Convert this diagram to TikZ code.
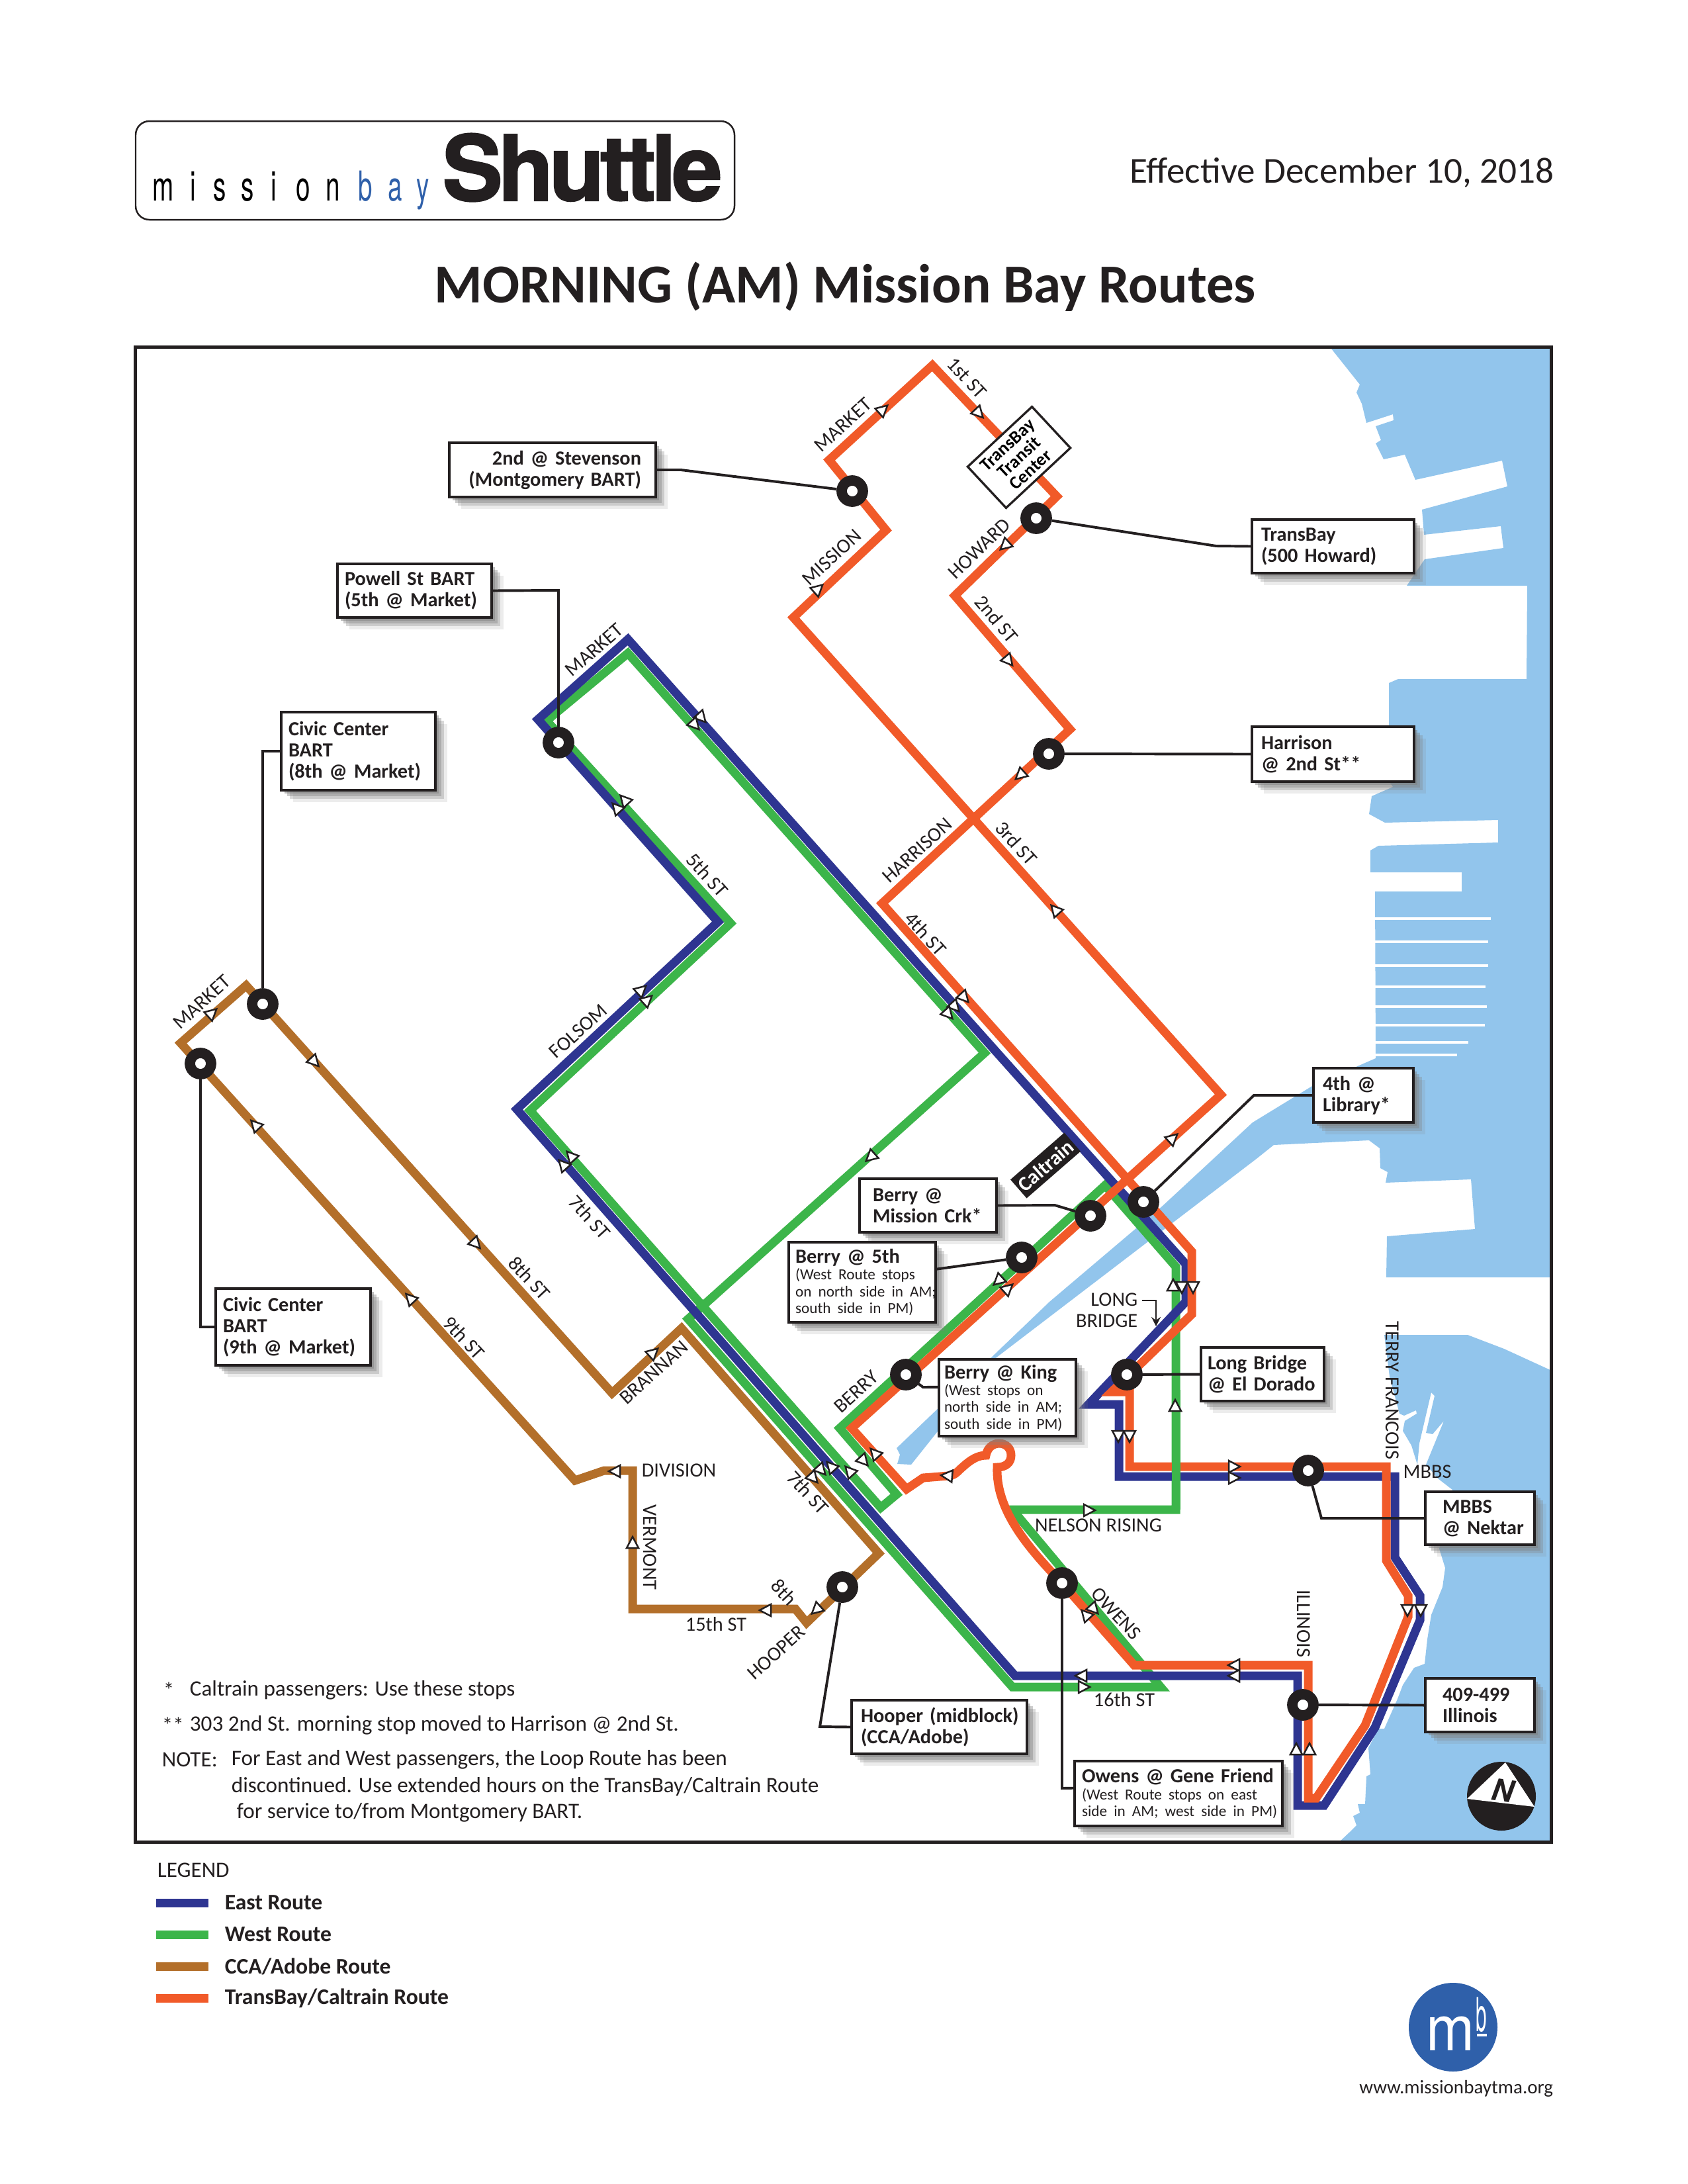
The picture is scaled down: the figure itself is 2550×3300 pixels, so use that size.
\documentclass[tikz,border=0pt]{standalone}
\usepackage{fontspec}
\setmainfont{Carlito}
\newfontfamily\heavyfont[BoldFeatures={FakeBold=1.5,LetterSpace=-5}]{TeX Gyre Heros}
\newfontfamily\logofont{TeX Gyre Heros}
\usetikzlibrary{shadows}
\definecolor{eastblue}{RGB}{46,53,145}
\definecolor{westgreen}{RGB}{60,181,74}
\definecolor{ccabrown}{RGB}{179,111,42}
\definecolor{bayorange}{RGB}{241,90,41}
\definecolor{water}{RGB}{146,197,236}
\definecolor{mbblue}{RGB}{47,96,170}
\definecolor{inkblack}{RGB}{35,31,32}
\newcommand{\boxnote}{\fontsize{5.6}{6.1}\selectfont\mdseries}
\tikzset{
  routeline/.style={line width=3.13pt, line join=miter, miter limit=10},
  leader/.style={draw=inkblack, line width=0.95pt},
  tick/.style={draw=inkblack, fill=white, line width=0.6pt, line join=miter},
  pier/.style={draw=white, line width=1.1pt},
  rlabel/.style={font=\fontsize{7.3}{7.6}\selectfont, text=inkblack, inner sep=0pt},
  stopdot/.style={circle, draw=inkblack, fill=white, line width=3.8pt, minimum size=7.7pt, inner sep=0pt},
  plainbox/.style={draw=inkblack, fill=white, line width=0.8pt,
    drop shadow={shadow xshift=1.2pt, shadow yshift=-1.2pt, opacity=0.5},
    drop shadow={shadow xshift=2.2pt, shadow yshift=-2.2pt, opacity=0.4},
    drop shadow={shadow xshift=3.2pt, shadow yshift=-3.2pt, opacity=0.3},
    drop shadow={shadow xshift=4.4pt, shadow yshift=-4.4pt, opacity=0.15},
    font=\fontsize{7.3}{7.7}\selectfont\bfseries, text=inkblack, align=left, inner ysep=0pt},
  stopbox/.code n args={3}{%
    \pgfmathsetlengthmacro\boxw{(#1-2*#3)*0.24088pt}%
    \pgfmathsetlengthmacro\boxh{#2*0.24088pt}%
    \pgfmathsetlengthmacro\boxp{#3*0.24088pt}%
    \tikzset{plainbox, text width=\boxw, minimum height=\boxh, inner xsep=\boxp}},
  legendtext/.style={font=\fontsize{8.1}{8.1}\selectfont\bfseries, text=inkblack, anchor=west, inner sep=0pt},
  notetext/.style={font=\fontsize{8}{8}\selectfont, text=inkblack, anchor=west, inner sep=0pt},
  logoletter/.style={font=\logofont\fontsize{15}{15}\selectfont, anchor=base, inner sep=0pt, xscale=0.62},
}
\begin{document}
\begin{tikzpicture}[x=0.24088pt, y=-0.24088pt]
  \useasboundingbox (0,0) rectangle (2550,3300);
  % bay
  \fill[water] (2012,527) -- (2055,581) -- (2050,593) -- (2058,610) -- (2065,639) -- (2105,626) -- (2106,635) -- (2079,644) -- (2087,665) -- (2079,670) -- (2091,694) -- (2123,687) -- (2139,725) -- (2270,696) -- (2278,735) -- (2149,770) -- (2152,808) -- (2268,795) -- (2272,828) -- (2153,845) -- (2126,885) -- (2308,885) -- (2307,1026) -- (2113,1026) -- (2099,1032) -- (2099,1180) -- (2105,1189) -- (2073,1203) -- (2069,1230) -- (2093,1243) -- (2264,1239) -- (2264,1273) -- (2083,1278) -- (2071,1285) -- (2071,1318) -- (2209,1318) -- (2209,1347) -- (2078,1347) -- (2079,1599) -- (1983,1641) -- (1893,1696) -- (1757,1822) -- (1586,1967) -- (1355,2188) -- (1360,2198) -- (1356,2212) -- (1377,2213) -- (1506,2051) -- (1900,1750) -- (1925,1730) -- (2069,1723) -- (2085,1735) -- (2086,1765) -- (2097,1771) -- (2094,1787) -- (2223,1782) -- (2229,1857) -- (2096,1868) -- (2095,1930) -- (2345,1930) -- (2345,527) -- cycle;
  \fill[water] (2092,2017) -- (2218,2017) -- (2273,2038) -- (2345,2071) -- (2345,2783) -- (2024,2783) -- (2040,2768) -- (2050,2758) -- (2045,2744) -- (2055,2739) -- (2052,2726) -- (2063,2726) -- (2065,2684) -- (2071,2681) -- (2068,2641) -- (2083,2612) -- (2092,2612) -- (2112,2567) -- (2120,2546) -- (2137,2520) -- (2153,2514) -- (2157,2477) -- (2163,2440) -- (2180,2398) -- (2184,2369) -- (2175,2340) -- (2195,2251) -- (2173,2234) -- (2155,2213) -- (2182,2147) -- (2165,2167) -- (2155,2165) -- (2168,2109) -- (2163,2104) -- (2145,2181) -- (2142,2213) -- (2133,2184) -- (2120,2162) -- (2123,2147) -- (2141,2136) -- (2140,2131) -- (2122,2139) -- (2115,2136) -- (2100,2080) -- cycle;
  \foreach \py/\pe in {1388/2253, 1423/2249, 1459/2249, 1491/2245, 1521/2247, 1549/2244, 1575/2219, 1594/2202}
    \draw[pier] (2072,\py) -- (\pe,\py);

  % routes
  \draw[routeline, ccabrown] (372,1489) -- (273,1576) -- (869,2237) -- (913,2222) -- (956,2222) -- (956,2431) -- (1202,2431) -- (1219,2452) -- (1328,2347) -- (1030,2007) -- (925,2105) -- cycle;
  \draw[routeline, westgreen] (1530,2281) -- (1777,2281) -- (1777,1914) -- (1670,1791) -- (1269,2158) -- (1355,2258) -- (1331,2278) -- (801,1678) -- (1104,1395) -- (826,1089) -- (949,987) -- (1488,1591) -- (1040,1993) -- (1530,2549) -- (1754,2549) -- cycle;
  \draw[routeline, eastblue] (949,966) -- (813,1087) -- (1085,1393) -- (781,1676) -- (1534,2532) -- (1961,2532) -- (1961,2728) -- (2001,2728) -- (2078,2610) -- (2146,2448) -- (2146,2411) -- (2108,2353) -- (2108,2231) -- (1691,2231) -- (1691,2122) -- (1645,2122) -- (1792,1967) -- (1792,1910) -- cycle;
  \draw[routeline, bayorange] (1199,933) -- (1339,801) -- (1253,695) -- (1409,552) -- (1597,750) -- (1443,900) -- (1617,1102) -- (1333,1365) -- (1801,1891) -- (1801,1986) -- (1680,2103) -- (1707,2103) -- (1707,2216) -- (2095,2216) -- (2095,2358) -- (2128,2411) -- (2128,2443) -- (2063,2607) -- (1989,2717) -- (1977,2717) -- (1977,2516) -- (1714,2516) -- (1605,2392)
    .. controls (1550,2335) and (1505,2280) .. (1507,2217)
    .. controls (1520,2217) and (1528,2210) .. (1528,2199)
    .. controls (1528,2188) and (1520,2181) .. (1510,2181)
    .. controls (1500,2181) and (1492,2188) .. (1490,2199)
    .. controls (1473,2199) and (1460,2212) .. (1451,2220)
    .. controls (1444,2227) and (1440,2230) .. (1433,2230)
    -- (1395,2233) -- (1370,2250) -- (1287,2158) -- (1845,1654) -- cycle;
  \draw[routeline, westgreen] (1777,2281) -- (1777,2100);

  % direction marks
  \foreach \px/\py/\ang in {1333/620/42, 1478/623/-47, 1520/823/222, 1235/891/42, 1523/997/-50, 1543/1170/222, 1596/1376/132, 1456/1506/-48, 1771/1721/42, 1522/1948/42, 1803/1943/-90, 1707/2168/-90, 1863/2216/0, 2127/2431/-90, 1979/2645/90, 1867/2516/180, 1642/2441/132, 1433/2230/175, 1323/2197/132,
    1690/2168/-90, 1786/1943/-90, 1863/2233/0, 2147/2431/-90, 1959/2645/90, 1867/2532/180, 1636/2532/180, 1257/2217/132, 852/1761/132, 968/1497/42, 933/1222/132, 1059/1083/-48, 1442/1520/-48,
    1773/1944/90, 1636/2549/0, 1652/2430/-48, 1304/2206/-48, 1285/2224/132, 1240/2220/-48, 1510/1934/222, 1317/1747/222, 1644/2282/0, 1776/2126/90, 864/1748/132, 977/1512/42, 945/1210/132, 1049/1094/-48, 1432/1531/-48,
    319/1532/42, 474/1603/-47, 718/1878/-47, 387/1701/133, 621/1963/133, 986/2045/42, 931/2223/180, 956/2333/90, 1159/2433/180, 1235/2431/222, 1228/2232/-48}
    \draw[tick, shift={(\px,\py)}, rotate=\ang] (11,0) -- (-6,9) -- (-6,-9) -- cycle;

  % street names
  \node[rlabel, rotate=42] (lMarketA) at (1274,642) {MARKET};
  \node[rlabel, rotate=-47] (lFirst) at (1461,571) {1st ST};
  \node[rlabel, rotate=43] (lMission) at (1257,842) {MISSION};
  \node[rlabel, rotate=44] (lHoward) at (1480,829) {HOWARD};
  \node[rlabel, rotate=-50] (lSecond) at (1506,935) {2nd ST};
  \node[rlabel, rotate=41] (lMarketB) at (898,982) {MARKET};
  \node[rlabel, rotate=-48] (lFifth) at (1069,1322) {5th ST};
  \node[rlabel, rotate=42] (lFolsom) at (874,1558) {FOLSOM};
  \node[rlabel, rotate=-48] (lSeventhA) at (891,1839) {7th ST};
  \node[rlabel, rotate=-48] (lThird) at (1536,1274) {3rd ST};
  \node[rlabel, rotate=-48] (lFourth) at (1399,1411) {4th ST};
  \node[rlabel, rotate=42] (lHarrison) at (1386,1285) {HARRISON};
  \node[rlabel, rotate=42] (lMarketC) at (305,1514) {MARKET};
  \node[rlabel, rotate=-47] (lEighth) at (800,1931) {8th ST};
  \node[rlabel, rotate=-47] (lNinth) at (701,2021) {9th ST};
  \node[rlabel, rotate=42] (lBrannan) at (988,2074) {BRANNAN};
  \node[rlabel] (lDivision) at (1026,2222) {DIVISION};
  \node[rlabel, rotate=-90] (lVermont) at (982,2338) {VERMONT};
  \node[rlabel] (lFifteenth) at (1082,2454) {15th ST};
  \node[rlabel, rotate=-47] (lEighthB) at (1185,2406) {8th};
  \node[rlabel, rotate=42] (lHooper) at (1173,2497) {HOOPER};
  \node[rlabel, rotate=-47] (lSeventhB) at (1221,2255) {7th ST};
  \node[rlabel, rotate=42] (lBerry) at (1294,2103) {BERRY};
  \node[rlabel, align=right, anchor=east] (lLong) at (1720,1980) {LONG\\BRIDGE};
  \node[rlabel] (lNelson) at (1660,2305) {NELSON RISING};
  \node[rlabel, rotate=-47] (lOwens) at (1687,2438) {OWENS};
  \node[rlabel] (lSixteenth) at (1699,2568) {16th ST};
  \node[rlabel, rotate=-90] (lIllinois) at (1970,2453) {ILLINOIS};
  \node[rlabel, rotate=-90] (lTerry) at (2104,2101) {TERRY FRANCOIS};
  \node[rlabel] (lMbbs) at (2157,2224) {MBBS};
  \coordinate (arrLong) at (1726,1965);
  \draw[leader, line width=0.5pt, -stealth] (arrLong) -- (1747,1965) -- (1747,2004);

  % stops
  \node[stopdot] (sStevenson) at (1288,742) {};
  \node[stopdot] (sHoward) at (1566,783) {};
  \node[stopdot] (sHarrison) at (1585,1139) {};
  \node[stopdot] (sPowell) at (844,1122) {};
  \node[stopdot] (sCivicA) at (397,1517) {};
  \node[stopdot] (sCivicB) at (303,1607) {};
  \node[stopdot] (sHooper) at (1273,2398) {};
  \node[stopdot] (sOwens) at (1605,2392) {};
  \node[stopdot] (sIllinois) at (1969,2576) {};
  \node[stopdot] (sNektar) at (1977,2222) {};
  \node[stopdot] (sLong) at (1703,2077) {};
  \node[stopdot] (sKing) at (1369,2077) {};
  \node[stopdot] (sFifth) at (1544,1900) {};
  \node[stopdot] (sCreek) at (1648,1837) {};
  \node[stopdot] (sLibrary) at (1728,1816) {};

  % stop boxes
  \node[stopbox={312}{82}{22}, align=right] (bxStevenson) at (835,710) {\mbox{2nd @ Stevenson}\\\mbox{(Montgomery BART)}};
  \node[stopbox={245}{81}{14}] (bxHoward) at (2014.5,825.5) {TransBay\\(500 Howard)};
  \node[stopbox={233}{81}{11}] (bxPowell) at (626.5,892.5) {\mbox{Powell St BART}\\\mbox{(5th @ Market)}};
  \node[stopbox={245}{83}{14}] (bxHarrison) at (2014.5,1139.5) {Harrison\\@ 2nd St**};
  \node[stopbox={233}{118}{11}] (bxCivicA) at (541.5,1135) {Civic Center\\BART\\\mbox{(8th @ Market)}};
  \node[stopbox={234}{116}{11}] (bxCivicB) at (443,2005) {Civic Center\\BART\\\mbox{(9th @ Market)}};
  \node[stopbox={151}{82}{14}] (bxLibrary) at (2060.5,1655) {4th @\\Library*};
  \node[stopbox={207}{81}{20}] (bxCreek) at (1402.5,1821.5) {Berry @\\\mbox{Mission Crk*}};
  \node[stopbox={222}{121}{10}] (bxFifth) at (1303,1937.5) {Berry @ 5th\par{\boxnote \mbox{(West Route stops}\\\mbox{on north side in AM;}\\\mbox{south side in PM)}\par}};
  \node[stopbox={207}{116}{8}] (bxKing) at (1522.5,2112) {Berry @ King\par{\boxnote \mbox{(West stops on}\\\mbox{north side in AM;}\\\mbox{south side in PM)}\par}};
  \node[stopbox={186}{81}{10}] (bxLong) at (1908,2076.5) {\mbox{Long Bridge}\\\mbox{@ El Dorado}};
  \node[stopbox={165}{80}{26}] (bxNektar) at (2236.5,2294) {MBBS\\\mbox{@ Nektar}};
  \node[stopbox={165}{81}{26}] (bxIllinois) at (2236.5,2576.5) {409-499\\Illinois};
  \node[stopbox={265}{81}{14}] (bxHooper) at (1419.5,2609.5) {\mbox{Hooper (midblock)}\\(CCA/Adobe)};
  \node[stopbox={314}{98}{11}] (bxOwens) at (1781,2710) {\mbox{Owens @ Gene Friend}\par{\boxnote \mbox{(West Route stops on east}\\\mbox{side in AM; west side in PM)}\par}};
  \node[draw=inkblack, fill=white, line width=0.8pt, rotate=43, minimum width=32pt, minimum height=20.5pt, inner sep=0pt, align=center, font=\fontsize{6.6}{6.2}\selectfont\bfseries] (bxTransit) at (1540,691) {TransBay\\Transit\\Center};
  \node[fill=inkblack, text=white, rotate=41, minimum width=26pt, minimum height=9pt, inner sep=0pt, font=\fontsize{7.5}{7.5}\selectfont\bfseries] (bxCaltrain) at (1580,1761) {Caltrain};

  % leaders
  \draw[leader] (bxStevenson.east) -- (1029,710) -- (sStevenson);
  \draw[leader] (bxHoward.west) -- (1838,825) -- (sHoward);
  \draw[leader] (bxPowell.east) -- (844,892) -- (sPowell);
  \draw[leader] (bxHarrison.west) -- (sHarrison);
  \draw[leader] (bxCivicA.west) -- (397,1135) -- (sCivicA);
  \draw[leader] (bxCivicB.west) -- (303,2005) -- (sCivicB);
  \draw[leader] (bxLibrary.west) -- (1895,1655) -- (sLibrary);
  \draw[leader] (bxCreek.east) -- (1594,1821) -- (sCreek);
  \draw[leader] ([yshift=4.8pt]bxFifth.east) -- (sFifth);
  \draw[leader] ([yshift=3.9pt]bxKing.west) -- (1395,2096) -- (sKing);
  \draw[leader] (bxLong.west) -- (sLong);
  \draw[leader] (bxNektar.west) -- (1997,2294) -- (sNektar);
  \draw[leader] (bxIllinois.west) -- (sIllinois);
  \draw[leader] (bxHooper.west) -- (1239,2609) -- (sHooper);
  \draw[leader] ([yshift=2pt]bxOwens.west) -- (1605,2702) -- (sOwens);

  % frame and compass
  \draw[draw=inkblack, line width=1.2pt] (204.5,524.5) rectangle (2344.5,2783.5);
  \fill[inkblack] (2269,2714) circle [x radius=52, y radius=52];
  \fill[white] (2275,2663) -- (2217,2718) -- (2319,2730) -- cycle;
  \node[font=\logofont\fontsize{11}{11}\selectfont\bfseries\itshape, text=inkblack, rotate=-8, inner sep=0pt] (nCompass) at (2271,2705) {N};

  % notes
  \node[notetext] (nStarA) at (246,2554) {*};
  \node[notetext] (nTextA) at (286,2554) {Caltrain passengers: Use these stops};
  \node[notetext] (nStarB) at (244,2607) {**};
  \node[notetext] (nTextB) at (286,2607) {303 2nd St. morning stop moved to Harrison @ 2nd St.};
  \node[notetext] (nNote) at (244,2659) {NOTE:};
  \node[notetext] (nLineA) at (349,2659) {For East and West passengers, the Loop Route has been};
  \node[notetext] (nLineB) at (349,2700) {discontinued. Use extended hours on the TransBay/Caltrain Route};
  \node[notetext] (nLineC) at (357,2739) {for service to/from Montgomery BART.};

  % header
  \draw[draw=inkblack, line width=0.6pt, rounded corners=5pt] (205,183) rectangle (1110,332);
  \foreach \ltr/\px in {m/247, i/292, s/332, s/374, i/414, o/458, n/503}
    \node[logoletter, text=black] (ltr\px) at (\px,303) {\ltr};
  \foreach \ltr/\px in {b/552, a/597, y/639}
    \node[logoletter, text=mbblue] (ltr\px) at (\px,303) {\ltr};
  \node[font=\heavyfont\fontsize{33}{33}\selectfont\bfseries, text=inkblack, anchor=base, inner sep=0pt] (tShuttle) at (880,303) {Shuttle};
  \node[font=\fontsize{13.3}{13.3}\selectfont, text=inkblack, anchor=base east, inner sep=0pt] (tEffective) at (2349,276) {Effective December 10, 2018};
  \node[font=\fontsize{20}{20}\selectfont\bfseries, text=inkblack, anchor=base, inner sep=0pt] (tTitle) at (1277,457) {MORNING (AM) Mission Bay Routes};

  % legend
  \node[font=\fontsize{8}{8}\selectfont, text=inkblack, anchor=west, inner sep=0pt] (lgTitle) at (237,2826) {LEGEND};
  \draw[line width=3.13pt, eastblue] (236,2875) -- (315,2875);
  \draw[line width=3.13pt, westgreen] (236,2923) -- (315,2923);
  \draw[line width=3.13pt, ccabrown] (236,2971) -- (315,2971);
  \draw[line width=3.13pt, bayorange] (236,3019) -- (315,3019);
  \node[legendtext] (lgEast) at (339,2875) {East Route};
  \node[legendtext] (lgWest) at (339,2923) {West Route};
  \node[legendtext] (lgCca) at (339,2971) {CCA/Adobe Route};
  \node[legendtext] (lgBay) at (339,3019) {TransBay/Caltrain Route};

  % mb mark
  \fill[mbblue] (2196,3063) circle [x radius=67, y radius=67];
  \node[font=\logofont\fontsize{23}{23}\selectfont, text=white, anchor=base, inner sep=0pt, xscale=0.92] (tMarkM) at (2192,3098) {m};
  \node[font=\logofont\fontsize{17}{17}\selectfont, text=white, anchor=base, inner sep=0pt, xscale=0.42] (tMarkB) at (2239,3069) {b};
  \fill[white] (2232,3073) rectangle (2247,3077);
  \node[font=\fontsize{7}{7}\selectfont, text=inkblack, anchor=base east, inner sep=0pt] (tUrl) at (2348,3163) {www.missionbaytma.org};
\end{tikzpicture}
\end{document}
